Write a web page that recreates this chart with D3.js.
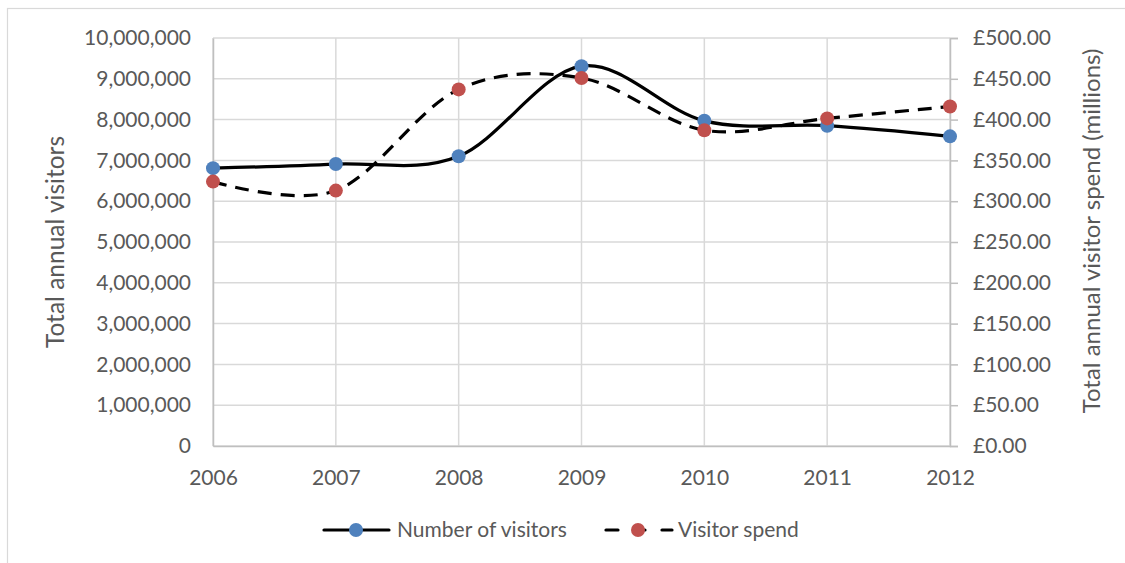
<!DOCTYPE html>
<html>
<head>
<meta charset="utf-8">
<script src="https://cdn.jsdelivr.net/npm/d3@7"></script>
<style>
  body { margin: 0; background: #fff; }
  text { font-family: Lato, "Open Sans", sans-serif; fill: #595959; }
</style>
</head>
<body>
<svg width="1125" height="563"></svg>
<script>
// data
var years = [2006, 2007, 2008, 2009, 2010, 2011, 2012];
var visitors = [6810000, 6910000, 7100000, 9310000, 7970000, 7850000, 7590000];
var spend = [324, 313, 437, 451, 387, 401.5, 416];
var leftTicks = [0, 1e6, 2e6, 3e6, 4e6, 5e6, 6e6, 7e6, 8e6, 9e6, 1e7];
var rightTicks = [0, 50, 100, 150, 200, 250, 300, 350, 400, 450, 500];

var svg = d3.select("svg");

var x = d3.scalePoint().domain(years).range([213, 950]);
var yL = d3.scaleLinear().domain([0, 1e7]).range([446, 38]);
var yR = d3.scaleLinear().domain([0, 500]).range([446, 38]);

// chart border
svg.append("rect")
    .attr("x", 7.5).attr("y", 8.5)
    .attr("width", 1300).attr("height", 700)
    .attr("fill", "none").attr("stroke", "#d9d9d9").attr("stroke-width", 1.2);

// gridlines
var grid = svg.append("g");
grid.selectAll("line.h").data(leftTicks).enter().append("line")
    .attr("x1", 213).attr("x2", 950)
    .attr("y1", function(d) { return yL(d); })
    .attr("y2", function(d) { return yL(d); })
    .attr("stroke", "#d9d9d9").attr("stroke-width", 1.5);
grid.selectAll("line.v").data(years).enter().append("line")
    .attr("x1", function(d) { return x(d); })
    .attr("x2", function(d) { return x(d); })
    .attr("y1", 38).attr("y2", 446)
    .attr("stroke", "#d9d9d9").attr("stroke-width", 1.5);

// axes
var fmtL = d3.format(",");
var left = svg.append("g").attr("transform", "translate(213,0)")
    .call(d3.axisLeft(yL).tickValues(leftTicks).tickFormat(fmtL).tickSize(0).tickPadding(22));
var right = svg.append("g").attr("transform", "translate(950,0)")
    .call(d3.axisRight(yR).tickValues(rightTicks)
      .tickFormat(function(d) { return "£" + d3.format(".2f")(d); })
      .tickSize(8).tickPadding(15));
var bottom = svg.append("g").attr("transform", "translate(0,446)")
    .call(d3.axisBottom(x).tickSize(0));

[left, right, bottom].forEach(function(a) {
  a.select(".domain").attr("stroke", "#bfbfbf").attr("stroke-width", 1.5);
  a.selectAll(".tick line").attr("stroke", "#bfbfbf").attr("stroke-width", 1.5);
  a.selectAll("text").style("font-size", "21px").attr("fill", "#595959")
    .style("font-family", "Lato, 'Open Sans', sans-serif");
});
bottom.selectAll("text").attr("dy", "0.71em").attr("y", 24);

// axis titles
svg.append("text")
    .attr("transform", "translate(64,242) rotate(-90)")
    .attr("text-anchor", "middle")
    .style("font-size", "24.5px")
    .text("Total annual visitors");
svg.append("text")
    .attr("transform", "translate(1100,231) rotate(-90)")
    .attr("text-anchor", "middle")
    .style("font-size", "24px")
    .text("Total annual visitor spend (millions)");

// lines
var curve = d3.curveCardinal.tension(0);
var lineL = d3.line().curve(curve)
    .x(function(d, i) { return x(years[i]); })
    .y(function(d) { return yL(d); });
var lineR = d3.line().curve(curve)
    .x(function(d, i) { return x(years[i]); })
    .y(function(d) { return yR(d); });

svg.append("path").datum(visitors)
    .attr("d", lineL).attr("fill", "none")
    .attr("stroke", "#000").attr("stroke-width", 3.2);
svg.append("g").selectAll("circle").data(visitors).enter().append("circle")
    .attr("cx", function(d, i) { return x(years[i]); })
    .attr("cy", function(d) { return yL(d); })
    .attr("r", 7).attr("fill", "#4f81bd");

svg.append("path").datum(spend)
    .attr("d", lineR).attr("fill", "none")
    .attr("stroke", "#000").attr("stroke-width", 3.2)
    .attr("stroke-dasharray", "14,9");
svg.append("g").selectAll("circle").data(spend).enter().append("circle")
    .attr("cx", function(d, i) { return x(years[i]); })
    .attr("cy", function(d) { return yR(d); })
    .attr("r", 7).attr("fill", "#c0504d");

// legend
var lg = svg.append("g").attr("transform", "translate(0,530)");
lg.append("line").attr("x1", 324).attr("x2", 389).attr("y1", 0).attr("y2", 0)
    .attr("stroke", "#000").attr("stroke-width", 3.2).attr("stroke-linecap", "round");
lg.append("circle").attr("cx", 356).attr("cy", 0).attr("r", 7).attr("fill", "#4f81bd");
lg.append("text").attr("x", 397).attr("y", 0).attr("dy", "0.35em")
    .style("font-size", "21px").text("Number of visitors");
lg.append("line").attr("x1", 606).attr("x2", 618).attr("y1", 0).attr("y2", 0)
    .attr("stroke", "#000").attr("stroke-width", 3.2).attr("stroke-linecap", "round");
lg.append("line").attr("x1", 636).attr("x2", 645).attr("y1", 0).attr("y2", 0)
    .attr("stroke", "#000").attr("stroke-width", 3.2).attr("stroke-linecap", "round");
lg.append("line").attr("x1", 662).attr("x2", 672).attr("y1", 0).attr("y2", 0)
    .attr("stroke", "#000").attr("stroke-width", 3.2).attr("stroke-linecap", "round");
lg.append("circle").attr("cx", 638).attr("cy", 0).attr("r", 7).attr("fill", "#c0504d");
lg.append("text").attr("x", 678).attr("y", 0).attr("dy", "0.35em")
    .style("font-size", "21px").text("Visitor spend");
</script>
</body>
</html>
